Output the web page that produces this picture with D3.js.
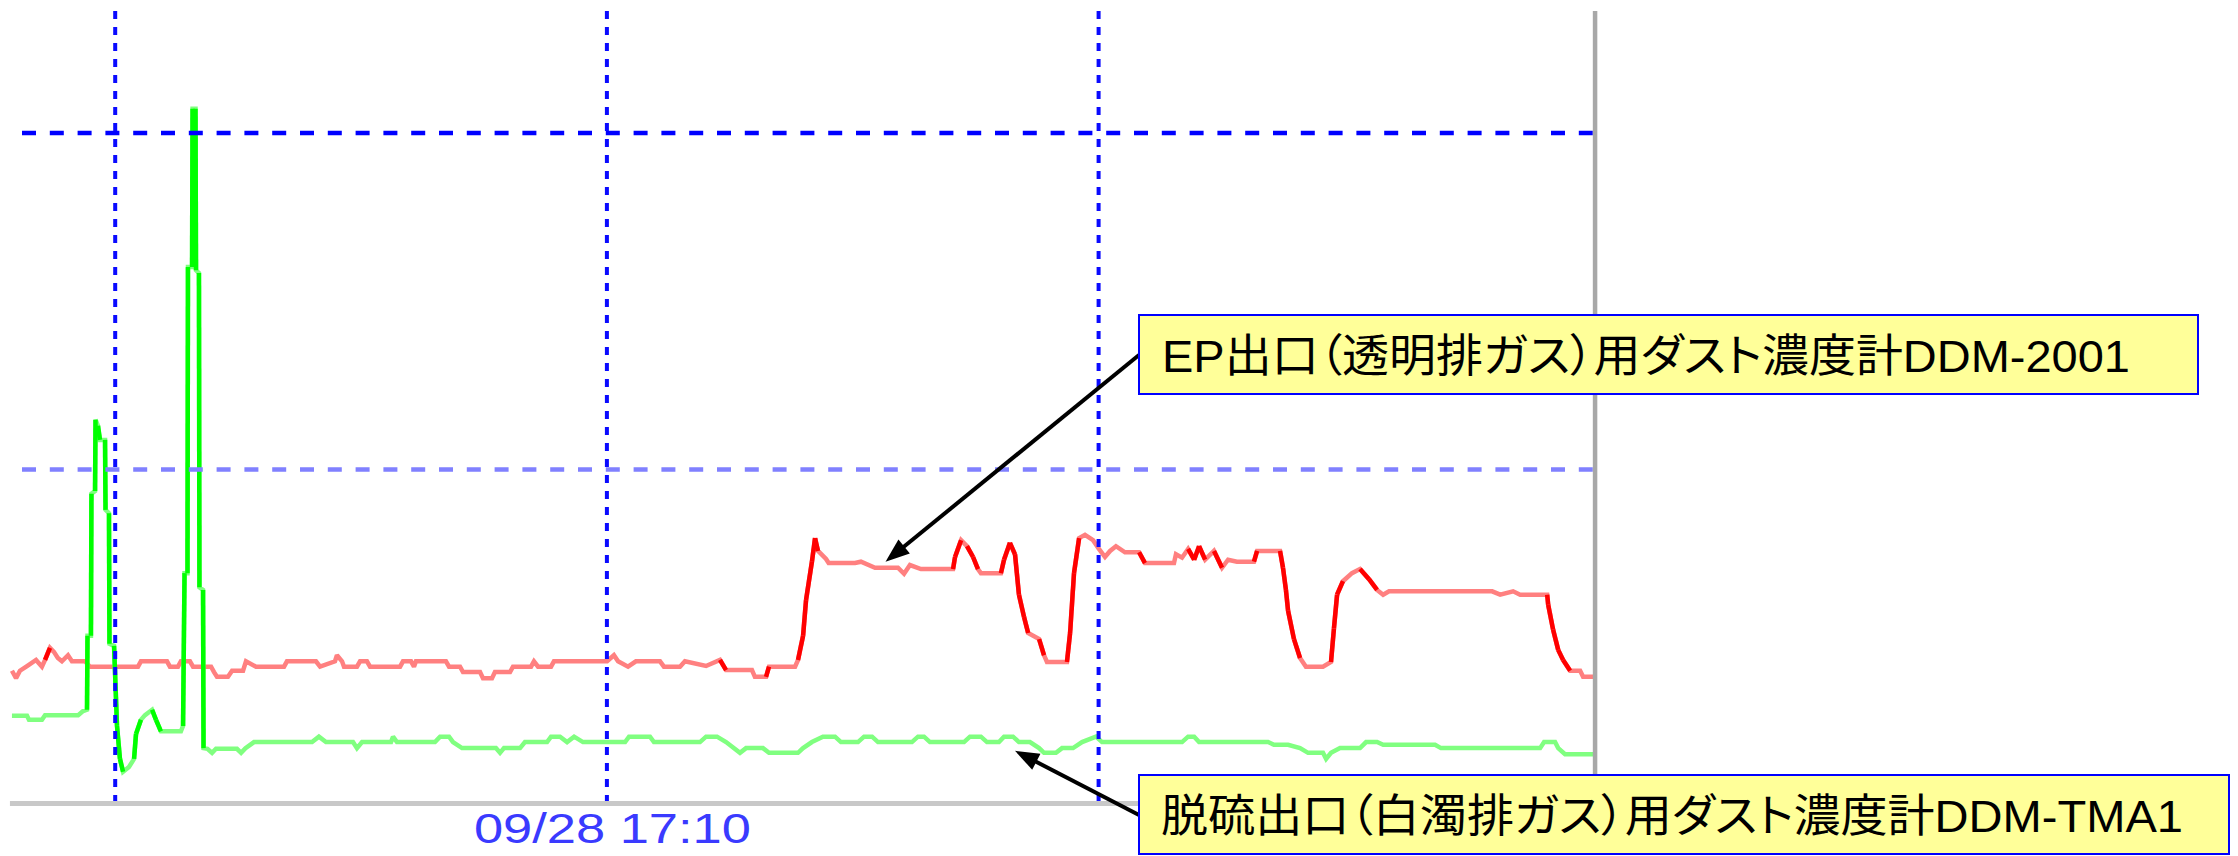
<!DOCTYPE html>
<html>
<head>
<meta charset="utf-8">
<script src="https://cdn.jsdelivr.net/npm/d3@7"></script>
<style>
  html, body { margin: 0; padding: 0; background: #fff; }
  svg { display: block; }
</style>
</head>
<body>
<div id="chart"></div>
<script>
// Trend aus der Leitwarte: zwei Staubmessgeräte, Minuten ab 16:40 am 09/28
// x = Minuten, y = Messwert (Rasterlinien bei 50 und 100)

// EP-Ausgang (rot)
const epOutlet = [
  [-6.30, 20.1], [-6.05, 19.0], [-5.81, 20.1], [-5.38, 20.8], [-4.83, 21.7], [-4.47, 20.7],
  [-4.28, 21.7], [-3.98, 23.5], [-3.74, 22.9], [-3.50, 22.0], [-3.25, 21.5], [-2.88, 22.4],
  [-2.64, 21.5], [-1.84, 21.5], [-1.54, 20.7], [1.39, 20.7], [1.57, 21.5], [3.16, 21.5],
  [3.34, 20.7], [3.83, 20.7], [4.01, 21.5], [4.56, 21.5], [4.75, 20.7], [5.85, 20.7],
  [6.03, 19.9], [6.21, 19.2], [6.88, 19.2], [7.13, 20.1], [7.80, 20.1], [7.98, 21.5],
  [8.59, 20.7], [10.30, 20.7], [10.48, 21.5], [12.25, 21.5], [12.50, 20.7], [13.41, 21.5],
  [13.53, 22.4], [13.84, 21.5], [13.96, 20.7], [14.75, 20.7], [14.94, 21.5], [15.36, 21.5],
  [15.55, 20.7], [17.38, 20.7], [17.56, 21.5], [18.05, 21.5], [18.23, 20.7], [18.35, 21.5],
  [20.18, 21.5], [20.37, 20.7], [21.04, 20.7], [21.22, 19.9], [22.26, 19.9], [22.44, 19.0],
  [22.99, 19.0], [23.17, 19.9], [24.09, 19.9], [24.27, 20.7], [25.37, 20.7], [25.55, 21.5],
  [25.80, 20.7], [26.59, 20.7], [26.77, 21.5], [30.01, 21.5], [30.43, 22.4], [30.68, 21.5],
  [31.29, 20.7], [31.77, 21.5], [33.24, 21.5], [33.48, 20.7], [34.46, 20.7], [34.76, 21.5],
  [36.05, 20.8], [36.90, 21.7], [37.27, 20.2], [38.85, 20.2], [39.03, 19.2], [39.71, 19.2],
  [39.89, 20.7], [41.48, 20.7], [41.66, 21.7], [41.97, 25.3], [42.15, 30.6], [42.51, 36.3],
  [42.70, 39.8], [42.88, 37.9], [43.37, 36.7], [43.53, 36.1], [45.14, 36.1], [45.50, 36.3],
  [46.36, 35.4], [47.76, 35.4], [48.13, 34.5], [48.49, 35.8], [49.16, 35.2], [51.12, 35.2],
  [51.24, 37.0], [51.61, 39.5], [51.97, 38.6], [52.34, 37.0], [52.64, 35.2], [52.82, 34.6],
  [54.04, 34.6], [54.23, 36.6], [54.59, 39.1], [54.90, 37.4], [55.14, 31.4], [55.45, 28.1],
  [55.70, 25.7], [56.37, 24.8], [56.67, 22.4], [56.85, 21.4], [58.07, 21.4], [58.26, 25.7],
  [58.50, 34.6], [58.81, 39.8], [59.17, 40.3], [59.66, 39.5], [60.02, 38.2], [60.39, 37.0],
  [60.70, 37.9], [61.06, 38.6], [61.61, 37.7], [62.47, 37.7], [62.83, 36.1], [64.60, 36.1],
  [64.72, 37.4], [65.09, 36.9], [65.46, 38.2], [65.83, 36.6], [66.13, 38.6], [66.50, 36.6],
  [67.04, 37.9], [67.53, 35.4], [67.90, 36.6], [68.44, 36.3], [69.48, 36.3], [69.67, 37.9],
  [71.07, 37.9], [71.25, 35.4], [71.43, 32.1], [71.56, 29.0], [71.92, 24.8], [72.29, 22.0],
  [72.65, 20.7], [73.69, 20.7], [74.18, 21.4], [74.36, 26.4], [74.55, 31.4], [74.91, 33.4],
  [75.46, 34.6], [75.95, 35.2], [76.50, 33.7], [76.99, 32.1], [77.36, 31.4], [77.72, 31.9],
  [84.01, 31.9], [84.50, 31.4], [85.29, 31.9], [85.72, 31.4], [87.37, 31.4], [87.43, 29.9],
  [87.73, 26.2], [88.04, 23.2], [88.34, 21.7], [88.77, 20.1], [89.38, 20.1], [89.56, 19.2],
  [90.23, 19.2]
];

// Entschwefelungs-Ausgang (grün)
const desulfOutlet = [
  [-6.30, 13.4], [-5.38, 13.4], [-5.26, 12.8], [-4.47, 12.8], [-4.28, 13.5], [-2.26, 13.5],
  [-1.96, 14.1], [-1.72, 14.3], [-1.69, 25.3], [-1.48, 25.3], [-1.45, 46.4], [-1.23, 46.8],
  [-1.20, 57.4], [-1.05, 56.5], [-0.93, 54.4], [-0.62, 54.4], [-0.59, 44.0], [-0.38, 43.5],
  [-0.35, 24.1], [-0.07, 23.8], [0.11, 11.9], [0.29, 7.0], [0.48, 5.1], [0.84, 5.8],
  [1.15, 7.0], [1.27, 10.7], [1.57, 12.8], [1.82, 13.5], [2.25, 14.3], [2.49, 12.8],
  [2.79, 11.1], [4.01, 11.1], [4.14, 11.9], [4.23, 34.6], [4.41, 34.6], [4.44, 80.1],
  [4.69, 80.1], [4.72, 103.6], [4.90, 103.6], [4.93, 79.6], [5.11, 79.2], [5.14, 32.5],
  [5.36, 32.1], [5.39, 8.6], [5.63, 8.5], [5.91, 7.9], [6.15, 8.5], [7.43, 8.5],
  [7.68, 7.9], [7.95, 8.6], [8.47, 9.5], [12.01, 9.5], [12.43, 10.3], [12.86, 9.5],
  [14.51, 9.5], [14.75, 8.6], [15.06, 9.5], [16.83, 9.5], [16.95, 10.3], [17.19, 9.5],
  [19.51, 9.5], [19.82, 10.3], [20.37, 10.3], [20.61, 9.5], [21.16, 8.6], [23.23, 8.6],
  [23.48, 7.9], [23.72, 8.6], [24.70, 8.6], [25.00, 9.5], [26.35, 9.5], [26.59, 10.3],
  [27.14, 10.3], [27.57, 9.5], [28.00, 10.3], [28.54, 9.5], [31.11, 9.5], [31.35, 10.3],
  [32.63, 10.3], [32.87, 9.5], [35.68, 9.5], [36.05, 10.3], [36.72, 10.3], [37.27, 9.5],
  [38.12, 7.9], [38.49, 8.6], [39.52, 8.6], [39.89, 7.9], [41.66, 7.9], [41.97, 8.6],
  [42.51, 9.5], [43.18, 10.3], [43.92, 10.3], [44.28, 9.5], [45.32, 9.5], [45.69, 10.3],
  [46.18, 10.3], [46.54, 9.5], [48.61, 9.5], [48.98, 10.3], [49.35, 10.3], [49.71, 9.5],
  [51.79, 9.5], [52.15, 10.3], [52.82, 10.3], [53.19, 9.5], [53.92, 9.5], [54.23, 10.3],
  [54.78, 10.3], [55.14, 9.5], [55.81, 9.5], [56.37, 8.6], [56.67, 7.9], [57.40, 7.9],
  [57.77, 8.6], [58.44, 8.6], [58.99, 9.5], [59.84, 10.3], [60.21, 9.5], [65.09, 9.5],
  [65.46, 10.3], [65.83, 10.3], [66.13, 9.5], [70.34, 9.5], [70.70, 9.1], [71.56, 9.1],
  [72.29, 8.6], [72.78, 7.9], [73.69, 7.9], [73.88, 7.0], [74.18, 7.9], [74.73, 8.6],
  [75.95, 8.6], [76.32, 9.5], [76.99, 9.5], [77.36, 9.1], [80.53, 9.1], [80.89, 8.6],
  [86.94, 8.6], [87.18, 9.5], [87.85, 9.5], [88.04, 8.6], [88.46, 7.7], [90.23, 7.7]
];

// Raster: senkrechte Zeitlinien (Minuten) und waagerechte Grenzwerte
const timeGrid = [0, 30, 60];
const timeLabelAt = [30];
const timeLabels = ["09/28 17:10"];
const levelGrid = [50, 100];

// Beschriftungen der beiden Kurven und wohin die Pfeile zeigen
const labelTexts = [
  "EP出口（透明排ガス）用ダスト濃度計DDM-2001",
  "脱硫出口（白濁排ガス）用ダスト濃度計DDM-TMA1"
];
const labelTargets = [[47.0, 36.3], [54.9, 8.2]];

// Größe
const width = 2238;
const height = 856;

const svg = d3.select("#chart")
  .append("svg")
  .attr("width", width)
  .attr("height", height)
  .style("background", "#fff");

// Skalen
const x = d3.scaleLinear()
  .domain([0, 60])
  .range([115.2, 1098.6]);

const y = d3.scaleLinear()
  .domain([0, 100])
  .range([806, 133]);

const plotLeft = x(d3.min(epOutlet, d => d[0]));
const plotRight = x(d3.max(epOutlet, d => d[0]));

// Kurven: flache Stücke hell, steile Sprünge kräftig
function drawSeries(data, light, strong) {
  const line = d3.line().x(d => x(d[0])).y(d => y(d[1]));
  svg.append("path")
    .datum(data)
    .attr("fill", "none")
    .attr("stroke", light)
    .attr("stroke-width", 4.5)
    .attr("stroke-linejoin", "miter")
    .attr("stroke-miterlimit", 2)
    .attr("d", line);

  const steep = d3.pairs(data).filter(([a, b]) => {
    const dx = Math.abs(x(b[0]) - x(a[0]));
    const dy = Math.abs(y(b[1]) - y(a[1]));
    return dy >= 10 && dy > dx;
  });
  svg.append("g")
    .selectAll("path")
    .data(steep)
    .join("path")
    .attr("fill", "none")
    .attr("stroke", strong)
    .attr("stroke-width", 4.5)
    .attr("d", d => line(d));
}

drawSeries(epOutlet, "#ff8080", "#ff0000");
drawSeries(desulfOutlet, "#80ff80", "#00ff00");

// Waagerechte gestrichelte Linien
const levelColors = ["#8080ff", "#0000ff"];
svg.append("g")
  .selectAll("line")
  .data(levelGrid)
  .join("line")
  .attr("x1", 22)
  .attr("x2", plotRight)
  .attr("y1", d => y(d))
  .attr("y2", d => y(d))
  .attr("stroke", (d, i) => levelColors[i])
  .attr("stroke-width", 4.5)
  .attr("stroke-dasharray", "14,13.8");

// Senkrechte gepunktete Zeitlinien
svg.append("g")
  .selectAll("line")
  .data(timeGrid)
  .join("line")
  .attr("x1", d => x(d))
  .attr("x2", d => x(d))
  .attr("y1", 11)
  .attr("y2", 806)
  .attr("stroke", "#0a0aff")
  .attr("stroke-width", 4)
  .attr("stroke-dasharray", "8,8");

// Grundlinie und rechter Rand
svg.append("line")
  .attr("x1", plotLeft - 2)
  .attr("x2", plotRight)
  .attr("y1", 803.5)
  .attr("y2", 803.5)
  .attr("stroke", "#c8c8c8")
  .attr("stroke-width", 5);

svg.append("line")
  .attr("x1", plotRight + 1)
  .attr("x2", plotRight + 1)
  .attr("y1", 11)
  .attr("y2", 806)
  .attr("stroke", "#a8a8a8")
  .attr("stroke-width", 4.5);

// Zeitachse (nur die mittlere Marke ist beschriftet)
const xAxis = svg.append("g")
  .attr("transform", "translate(5,806)")
  .call(d3.axisBottom(x)
    .tickValues(timeLabelAt)
    .tickSize(0)
    .tickPadding(6)
    .tickFormat((d, i) => timeLabels[i]));
xAxis.select(".domain").remove();
xAxis.selectAll("text")
  .attr("fill", "#3a3aff")
  .attr("font-family", "Liberation Sans, Arial, sans-serif")
  .attr("font-size", 43)
  .attr("textLength", 277)
  .attr("lengthAdjust", "spacingAndGlyphs");

// Beschriftungskästen mit Pfeilen
const boxes = [
  { x: 1139, y: 315, w: 1059, h: 79, tx: 1162, ty: 372, tl: 968, ay: 355 },
  { x: 1139, y: 775, w: 1090, h: 79, tx: 1161, ty: 832, tl: 1022, ay: 815 }
];

boxes.forEach((b, i) => {
  const [tm, tv] = labelTargets[i];
  const tipX = x(tm), tipY = y(tv);
  const dx = tipX - b.x, dy = tipY - b.ay;
  const len = Math.hypot(dx, dy);
  const ux = dx / len, uy = dy / len;
  const headL = 24, headW = 9;
  const baseX = tipX - ux * headL, baseY = tipY - uy * headL;

  svg.append("line")
    .attr("x1", b.x)
    .attr("y1", b.ay)
    .attr("x2", baseX + ux * 4)
    .attr("y2", baseY + uy * 4)
    .attr("stroke", "#000")
    .attr("stroke-width", 4);

  svg.append("path")
    .attr("d", `M${tipX},${tipY} L${baseX - uy * headW},${baseY + ux * headW} L${baseX + uy * headW},${baseY - ux * headW} Z`)
    .attr("fill", "#000");

  svg.append("rect")
    .attr("x", b.x)
    .attr("y", b.y)
    .attr("width", b.w)
    .attr("height", b.h)
    .attr("fill", "#ffff99")
    .attr("stroke", "#0000ff")
    .attr("stroke-width", 2);

  svg.append("text")
    .attr("x", b.tx)
    .attr("y", b.ty)
    .attr("font-family", "Liberation Sans, Noto Sans CJK JP, sans-serif")
    .attr("font-size", 45)
    .attr("fill", "#000")
    .style("font-feature-settings", "'palt' 1")
    .attr("textLength", b.tl)
    .attr("lengthAdjust", "spacingAndGlyphs")
    .text(labelTexts[i]);
});
</script>
</body>
</html>
